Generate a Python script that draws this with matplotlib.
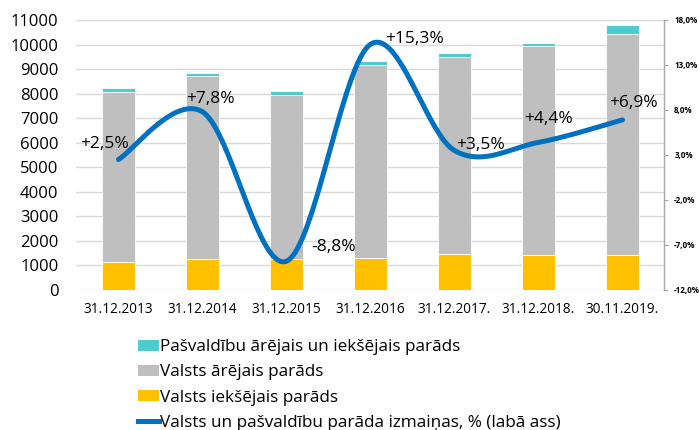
import numpy as np
import matplotlib
matplotlib.use("Agg")
import matplotlib.pyplot as plt
from matplotlib.patches import Patch
from matplotlib.lines import Line2D

plt.rcParams['font.family'] = ['Open Sans', 'DejaVu Sans']

categories = ["31.12.2013", "31.12.2014", "31.12.2015", "31.12.2016",
              "31.12.2017.", "31.12.2018.", "30.11.2019."]
valsts_iekshejais = [1160, 1280, 1280, 1320, 1480, 1410, 1440]
valsts_arejais = [6900, 7420, 6670, 7850, 8030, 8550, 8970]
pasvaldibu = [160, 160, 140, 140, 140, 120, 370]
izmainas = [2.5, 7.8, -8.8, 15.3, 3.5, 4.4, 6.9]
izmainas_labels = ["+2,5%", "+7,8%", "-8,8%", "+15,3%", "+3,5%", "+4,4%", "+6,9%"]
right_ticks = [18, 13, 8, 3, -2, -7, -12]

legend_names = ["Pašvaldību ārējais un iekšējais parāds",
                "Valsts ārējais parāds",
                "Valsts iekšējais parāds",
                "Valsts un pašvaldību parāda izmaiņas, % (labā ass)"]

c_cyan = "#4FCBCF"
c_gray = "#BFBFBF"
c_yellow = "#FFC000"
c_blue = "#0070C0"

fig = plt.figure(figsize=(6.99, 4.30), dpi=100)
ax = fig.add_axes([0.1094, 0.3256, 0.8412, 0.6279])
x = np.arange(len(categories))
w = 0.4
b1 = np.array(valsts_iekshejais)
b2 = b1 + np.array(valsts_arejais)
ax.bar(x, valsts_iekshejais, width=w, color=c_yellow, edgecolor="white", linewidth=0.6, zorder=2)
ax.bar(x, valsts_arejais, width=w, bottom=b1, color=c_gray, edgecolor="white", linewidth=0.6, zorder=2)
ax.bar(x, pasvaldibu, width=w, bottom=b2, color=c_cyan, edgecolor="white", linewidth=0.6, zorder=2)

ax.set_xlim(-0.5, len(categories) - 0.5)
ax.set_ylim(0, 11000)
ax.set_yticks(np.arange(0, 11001, 1000))
ax.yaxis.grid(True, color="#D9D9D9", linewidth=1.0, zorder=0)
ax.set_axisbelow(True)
for s in ax.spines.values():
    s.set_visible(False)
ax.tick_params(axis='y', length=0, labelsize=12, pad=13, colors="#000000")
ax.tick_params(axis='x', length=0, labelsize=9.8, pad=9)
ax.set_xticks(x)
ax.set_xticklabels(categories)

ax2 = ax.twinx()
ax2.set_ylim(-12, 18)
ax2.set_yticks(right_ticks)
ax2.set_yticklabels([f"{t:.1f}%".replace(".", ",") for t in right_ticks],
                    fontsize=5.8, fontweight='bold')
for k, s in ax2.spines.items():
    s.set_visible(k == 'right')
ax2.spines['right'].set_color("#A6A6A6")
ax2.spines['right'].set_linewidth(1.0)
ax2.tick_params(axis='y', length=3, color="#A6A6A6", pad=4)

# Excel-style smoothed line (Catmull-Rom Bezier) through the data points
px = x.astype(float)
py = np.array(izmainas, dtype=float)
pts = np.column_stack([px, py])
ext = np.vstack([pts[0], pts, pts[-1]])
curve = []
t = np.linspace(0, 1, 40)
for i in range(len(pts) - 1):
    p0, p1, p2, p3 = ext[i], ext[i + 1], ext[i + 2], ext[i + 3]
    c1 = p1 + (p2 - p0) / 6
    c2 = p2 - (p3 - p1) / 6
    seg = ((1 - t)[:, None] ** 3 * p1 + 3 * ((1 - t) ** 2 * t)[:, None] * c1
           + 3 * ((1 - t) * t ** 2)[:, None] * c2 + (t ** 3)[:, None] * p2)
    curve.append(seg)
curve = np.vstack(curve)
ax2.plot(curve[:, 0], curve[:, 1], color=c_blue, linewidth=3.6,
         solid_capstyle='round', zorder=5)

offsets = [(-14, 15), (8, 13), (47, 14), (44, 5), (26, 5), (10, 23), (11, 17)]
for xi, yi, lab, (dx, dy) in zip(px, py, izmainas_labels, offsets):
    ax2.annotate(lab, (xi, yi), xytext=(dx * 0.72, dy * 0.72), textcoords='offset points',
                 ha='center', va='center', fontsize=12.5, color="#000000", zorder=6)

handles = [Patch(facecolor=c_cyan, edgecolor='none'),
           Patch(facecolor=c_gray, edgecolor='none'),
           Patch(facecolor=c_yellow, edgecolor='none'),
           Line2D([0], [0], color=c_blue, linewidth=3.6)]
fig.legend(handles, legend_names, loc='upper left', bbox_to_anchor=(0.198, 0.211),
           frameon=False, fontsize=12.3, handlelength=1.2, handleheight=0.6,
           handletextpad=0.08, labelspacing=0.54, borderaxespad=0, borderpad=0)

fig.savefig("out.png", dpi=100)
